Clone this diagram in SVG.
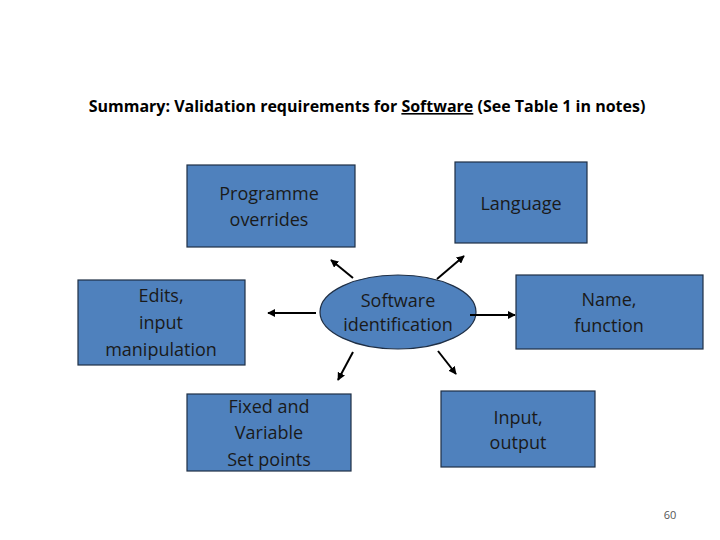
<svg xmlns="http://www.w3.org/2000/svg" width="720" height="540" viewBox="0 0 720 540">
<style>
.n{fill:#4f81bd;stroke:#1f2f45;stroke-width:1.2}
.t{font-family:"Open Sans","Liberation Sans",sans-serif;font-size:18px;fill:#1a1a1a;text-anchor:middle}
.c line{stroke:#000;stroke-width:2;marker-end:url(#a)}
</style>
<defs><marker id="a" viewBox="0 0 10 10" refX="9" refY="5" markerWidth="4" markerHeight="4" orient="auto"><path d="M0,0L10,5L0,10z" fill="#000"/></marker></defs>
<rect width="720" height="540" fill="#fff"/>
<text x="367" y="112" font-family="'Open Sans','Liberation Sans',sans-serif" font-size="16" font-weight="bold" text-anchor="middle" fill="#000">Summary: Validation requirements for <tspan text-decoration="underline">Software</tspan> (See Table 1 in notes)</text>
<g id="prog"><rect class="n" x="187" y="165" width="168" height="82"/><text class="t" x="269" y="200">Programme</text><text class="t" x="269" y="226">overrides</text></g>
<g id="lang"><rect class="n" x="455" y="162" width="132" height="81"/><text class="t" x="521" y="210">Language</text></g>
<g id="edits"><rect class="n" x="78" y="280" width="167" height="85"/><text class="t" x="161" y="302">Edits,</text><text class="t" x="161" y="329">input</text><text class="t" x="161" y="356">manipulation</text></g>
<g id="sw"><ellipse class="n" cx="398" cy="312" rx="78" ry="37"/><text class="t" x="398" y="307" font-size="16">Software</text><text class="t" x="398" y="331" font-size="16">identification</text></g>
<g id="name"><rect class="n" x="516" y="275" width="187" height="74"/><text class="t" x="609" y="306">Name,</text><text class="t" x="609" y="332">function</text></g>
<g id="fixed"><rect class="n" x="187" y="394" width="164" height="77"/><text class="t" x="269" y="413">Fixed and</text><text class="t" x="269" y="439">Variable</text><text class="t" x="269" y="466">Set points</text></g>
<g id="io"><rect class="n" x="441" y="391" width="154" height="76"/><text class="t" x="518" y="424">Input,</text><text class="t" x="518" y="449">output</text></g>
<g class="c">
<line x1="353" y1="278" x2="331" y2="260"/>
<line x1="437" y1="279" x2="464" y2="256"/>
<line x1="316" y1="313" x2="268" y2="313"/>
<line x1="470" y1="315" x2="515" y2="315"/>
<line x1="353" y1="352" x2="338" y2="380"/>
<line x1="438" y1="351" x2="456" y2="374"/>
</g>
<text x="670" y="519" font-family="'Open Sans','Liberation Sans',sans-serif" font-size="11" fill="#555" text-anchor="middle">60</text>
</svg>
